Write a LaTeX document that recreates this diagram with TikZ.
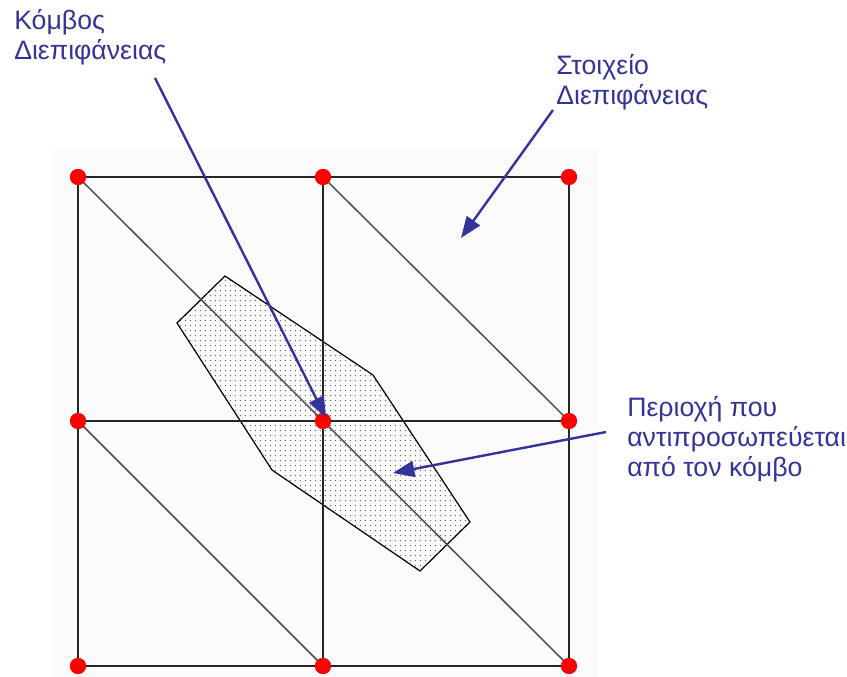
\documentclass[tikz,border=0pt]{standalone}
\usepackage{fontspec}
\setmainfont{Liberation Sans}
\usetikzlibrary{arrows.meta,patterns.meta}
\definecolor{labelblue}{RGB}{51,51,153}
\definecolor{bgfaint}{RGB}{251,251,251}
\tikzset{
  gridline/.style={line width=1.6pt, draw=black!85},
  diagline/.style={line width=1.1pt, draw=black!70},
  meshnode/.style={circle, fill=red, draw=none, minimum size=12pt, inner sep=0pt},
  region/.style={draw=black, line width=0.9pt, pattern={Dots[distance=4pt, radius=0.6pt]}, pattern color=black!65},
  pointer/.style={draw=labelblue, line width=1.8pt, -{Triangle[length=16pt, width=12pt]}},
  label/.style={text=labelblue, font=\fontsize{20pt}{22.7pt}\selectfont, align=left, inner sep=0pt, anchor=north west},
}
\begin{document}
\begin{tikzpicture}[x=0.75pt, y=-0.75pt]
  \useasboundingbox (0,0) rectangle (847,677);
  % faint background panel
  \fill[bgfaint] (52,148) rectangle (598,677);
  % represented region
  \draw[region] (225,276) -- (373,375) -- (470,522) -- (420,571) -- (272,470) -- (177,323) -- cycle;
  % mesh nodes
  \node[meshnode] (n00) at (78,177) {};
  \node[meshnode] (n10) at (323,177) {};
  \node[meshnode] (n20) at (569,177) {};
  \node[meshnode] (n01) at (78,421) {};
  \node[meshnode] (n11) at (323,421) {};
  \node[meshnode] (n21) at (569,421) {};
  \node[meshnode] (n02) at (78,666) {};
  \node[meshnode] (n12) at (323,666) {};
  \node[meshnode] (n22) at (569,666) {};
  % grid lines
  \draw[gridline] (n00.center) -- (n20.center);
  \draw[gridline] (n01.center) -- (n21.center);
  \draw[gridline] (n02.center) -- (n22.center);
  \draw[gridline] (n00.center) -- (n02.center);
  \draw[gridline] (n10.center) -- (n12.center);
  \draw[gridline] (n20.center) -- (n22.center);
  % diagonals
  \draw[diagline] (n00.center) -- (n11.center);
  \draw[diagline] (n10.center) -- (n21.center);
  \draw[diagline] (n01.center) -- (n12.center);
  \draw[diagline] (n11.center) -- (n22.center);
  % redraw dots on top
  \foreach \n in {n00,n10,n20,n01,n11,n21,n02,n12,n22} {
    \fill[red] (\n.center) circle (6pt);
  }
  % labels
  \node[label] (lnode) at (14,9) {Κόμβος\\Διεπιφάνειας};
  \node[label] (lelem) at (556,54) {Στοιχείο\\Διεπιφάνειας};
  \node[label] (lreg) at (627,396) {Περιοχή που\\αντιπροσωπεύεται\\από τον κόμβο};
  % arrow end points
  \coordinate (a1s) at (155,78);
  \coordinate (a1e) at (326,418);
  \coordinate (a2s) at (553,110);
  \coordinate (a2e) at (461,238);
  \coordinate (a3s) at (606,432);
  \coordinate (a3e) at (393,473);
  \draw[pointer] (a1s) -- (a1e);
  \draw[pointer] (a2s) -- (a2e);
  \draw[pointer] (a3s) -- (a3e);
\end{tikzpicture}
\end{document}
